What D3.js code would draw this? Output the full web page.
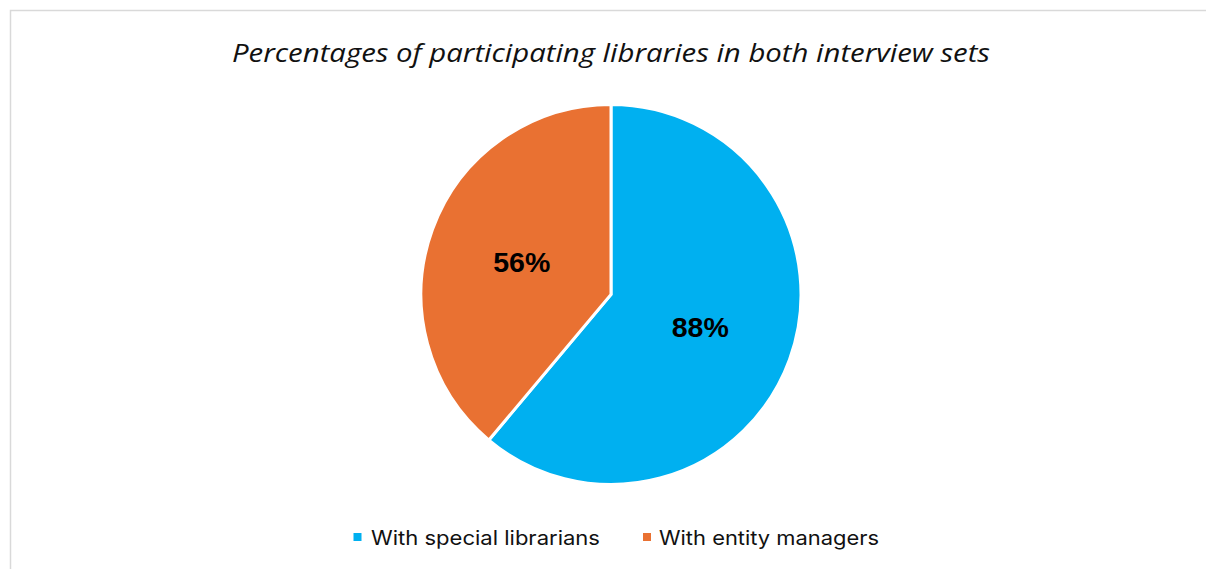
<!DOCTYPE html>
<html>
<head>
<meta charset="utf-8">
<script src="https://cdn.jsdelivr.net/npm/d3@7"></script>
<style>
  html, body { margin: 0; padding: 0; background: #ffffff; }
  svg { display: block; }
</style>
</head>
<body>
<svg id="chart" width="1206" height="569"></svg>
<script>
// Share of participating libraries in each interview set
const categories = ["With special librarians", "With entity managers"];
const values = [88, 56];
const labels = ["88%", "56%"];
const colors = ["#00B0F0", "#E97132"];
const title = "Percentages of participating libraries in both interview sets";

const W = 1206, H = 569;
const svg = d3.select("#chart");

// chart frame (top and left edges visible)
svg.append("path")
  .attr("d", `M10.5,${H} L10.5,10.5 L${W},10.5`)
  .attr("fill", "none")
  .attr("stroke", "#d9d9d9")
  .attr("stroke-width", 1.5);

// title
svg.append("text")
  .attr("x", 611)
  .attr("y", 62)
  .attr("text-anchor", "middle")
  .attr("font-family", "'Open Sans', 'Liberation Sans', sans-serif")
  .attr("font-style", "italic")
  .attr("font-size", 26)
  .attr("fill", "#111111")
  .attr("textLength", 758)
  .attr("lengthAdjust", "spacingAndGlyphs")
  .text(title);

// pie
const cx = 611, cy = 294.5, r = 190;
const pie = d3.pie().sort(null).value(d => d);
const arcs = pie(values);
const arc = d3.arc().innerRadius(0).outerRadius(r);
const labelArc = d3.arc().innerRadius(r * 0.5).outerRadius(r * 0.5);

const g = svg.append("g").attr("transform", `translate(${cx},${cy})`);
g.selectAll("path.slice")
  .data(arcs)
  .join("path")
  .attr("class", "slice")
  .attr("d", arc)
  .attr("fill", (d, i) => colors[i])
  .attr("stroke", "#ffffff")
  .attr("stroke-width", 3)
  .attr("stroke-linejoin", "miter");

g.selectAll("text.val")
  .data(arcs)
  .join("text")
  .attr("class", "val")
  .attr("transform", d => `translate(${labelArc.centroid(d)})`)
  .attr("text-anchor", "middle")
  .attr("dy", "0.36em")
  .attr("font-family", "'Liberation Sans', Arial, sans-serif")
  .attr("font-weight", "bold")
  .attr("font-size", 28.5)
  .attr("fill", "#000000")
  .text((d, i) => labels[i]);

// legend
const legendItems = [
  { x: 353.5, tx: 371, w: 229 },
  { x: 643, tx: 659, w: 220 }
];
const lg = svg.append("g");
categories.forEach((c, i) => {
  lg.append("rect")
    .attr("x", legendItems[i].x)
    .attr("y", 533)
    .attr("width", 8)
    .attr("height", 8)
    .attr("fill", colors[i]);
  lg.append("text")
    .attr("x", legendItems[i].tx)
    .attr("y", 545)
    .attr("font-family", "Inter, 'Noto Sans', sans-serif")
    .attr("font-size", 20)
    .attr("fill", "#111111")
    .attr("textLength", legendItems[i].w)
    .attr("lengthAdjust", "spacingAndGlyphs")
    .text(c);
});
</script>
</body>
</html>
